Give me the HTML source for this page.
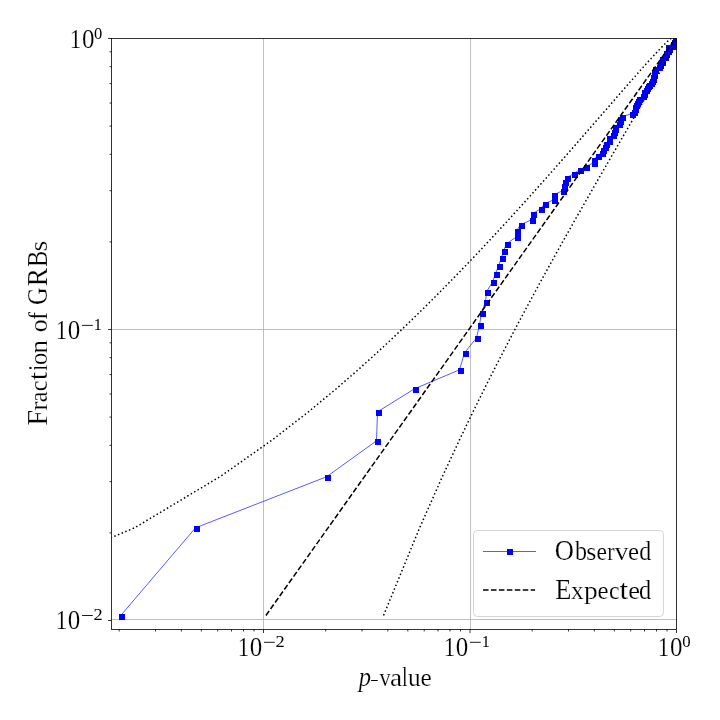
<!DOCTYPE html>
<html><head><meta charset="utf-8"><style>
html,body{margin:0;padding:0;background:#fff;}
svg{display:block;will-change:transform;}
text{font-family:"Liberation Serif",serif;fill:#000;font-kerning:none;stroke:#fff;stroke-width:0.2px;stroke-linejoin:round;}
</style></head><body>
<svg width="720" height="720" viewBox="0 0 720 720">
<rect width="720" height="720" fill="#fff"/>
<defs><clipPath id="ax"><rect x="111.5" y="38.5" width="565" height="591"/></clipPath></defs>
<g stroke="#b0b0b0" stroke-width="0.8" fill="none">
<line x1="263.5" y1="38.5" x2="263.5" y2="629.5"/>
<line x1="470.5" y1="38.5" x2="470.5" y2="629.5"/>
<line x1="111.5" y1="329.5" x2="676.5" y2="329.5"/>
<line x1="111.5" y1="619.5" x2="676.5" y2="619.5"/>
</g>
<g clip-path="url(#ax)">
<polyline points="120.5,615.8 195.5,527.8 326.5,476.8 376.5,440.8 377.5,411.8 414.5,388.8 459.5,369.8 464.5,352.8 476.5,337.8 479.5,324.8 481.5,312.8 485.5,301.8 486.5,291.8 492.5,281.8 495.5,273.8 498.5,265.8 501.5,257.8 503.5,250.8 506.5,243.8 516.5,236.8 516.5,230.8 520.5,224.8 531.5,219.8 532.5,213.8 540.5,208.8 544.5,203.8 553.5,199.8 553.5,194.8 562.5,190.8 563.5,185.8 564.5,181.8 566.5,177.8 573.5,173.8 579.5,169.8 585.5,166.8 593.5,162.8 593.5,159.8 597.5,155.8 601.5,152.8 602.5,149.8 604.5,146.8 605.5,143.8 608.5,140.8 608.5,137.8 612.5,134.8 613.5,131.8 614.5,128.8 614.5,126.8 618.5,123.8 619.5,120.8 619.5,118.8 621.5,116.8 631.5,113.8 633.5,111.8 634.5,108.8 634.5,106.8 635.5,104.8 636.5,102.8 637.5,100.8 638.5,98.8 642.5,95.8 643.5,93.8 643.5,91.8 645.5,89.8 646.5,87.8 647.5,85.8 648.5,84.8 650.5,82.8 651.5,80.8 652.5,78.8 652.5,76.8 653.5,74.8 653.5,73.8 653.5,71.8 654.5,69.8 654.5,68.8 658.5,66.8 659.5,64.8 659.5,63.8 661.5,61.8 661.5,60.8 661.5,58.8 664.5,56.8 664.5,55.8 665.5,53.8 665.5,52.8 667.5,50.8 667.5,49.8 668.5,48.8 667.5,46.8 672.5,45.8 672.5,43.8 673.5,42.8 673.5,41.8 674.5,39.8 675.5,38.8 676.5,37.8" fill="none" stroke="#0000ff" stroke-width="0.65" stroke-linejoin="round"/>
<g fill="#0000ff"><rect x="119" y="614" width="6" height="6"/><rect x="194" y="526" width="6" height="6"/><rect x="325" y="475" width="6" height="6"/><rect x="375" y="439" width="6" height="6"/><rect x="376" y="410" width="6" height="6"/><rect x="413" y="387" width="6" height="6"/><rect x="458" y="368" width="6" height="6"/><rect x="463" y="351" width="6" height="6"/><rect x="475" y="336" width="6" height="6"/><rect x="478" y="323" width="6" height="6"/><rect x="480" y="311" width="6" height="6"/><rect x="484" y="300" width="6" height="6"/><rect x="485" y="290" width="6" height="6"/><rect x="491" y="280" width="6" height="6"/><rect x="494" y="272" width="6" height="6"/><rect x="497" y="264" width="6" height="6"/><rect x="500" y="256" width="6" height="6"/><rect x="502" y="249" width="6" height="6"/><rect x="505" y="242" width="6" height="6"/><rect x="515" y="235" width="6" height="6"/><rect x="515" y="229" width="6" height="6"/><rect x="519" y="223" width="6" height="6"/><rect x="530" y="218" width="6" height="6"/><rect x="531" y="212" width="6" height="6"/><rect x="539" y="207" width="6" height="6"/><rect x="543" y="202" width="6" height="6"/><rect x="552" y="198" width="6" height="6"/><rect x="552" y="193" width="6" height="6"/><rect x="561" y="189" width="6" height="6"/><rect x="562" y="184" width="6" height="6"/><rect x="563" y="180" width="6" height="6"/><rect x="565" y="176" width="6" height="6"/><rect x="572" y="172" width="6" height="6"/><rect x="578" y="168" width="6" height="6"/><rect x="584" y="165" width="6" height="6"/><rect x="592" y="161" width="6" height="6"/><rect x="592" y="158" width="6" height="6"/><rect x="596" y="154" width="6" height="6"/><rect x="600" y="151" width="6" height="6"/><rect x="601" y="148" width="6" height="6"/><rect x="603" y="145" width="6" height="6"/><rect x="604" y="142" width="6" height="6"/><rect x="607" y="139" width="6" height="6"/><rect x="607" y="136" width="6" height="6"/><rect x="611" y="133" width="6" height="6"/><rect x="612" y="130" width="6" height="6"/><rect x="613" y="127" width="6" height="6"/><rect x="613" y="125" width="6" height="6"/><rect x="617" y="122" width="6" height="6"/><rect x="618" y="119" width="6" height="6"/><rect x="618" y="117" width="6" height="6"/><rect x="620" y="115" width="6" height="6"/><rect x="630" y="112" width="6" height="6"/><rect x="632" y="110" width="6" height="6"/><rect x="633" y="107" width="6" height="6"/><rect x="633" y="105" width="6" height="6"/><rect x="634" y="103" width="6" height="6"/><rect x="635" y="101" width="6" height="6"/><rect x="636" y="99" width="6" height="6"/><rect x="637" y="97" width="6" height="6"/><rect x="641" y="94" width="6" height="6"/><rect x="642" y="92" width="6" height="6"/><rect x="642" y="90" width="6" height="6"/><rect x="644" y="88" width="6" height="6"/><rect x="645" y="86" width="6" height="6"/><rect x="646" y="84" width="6" height="6"/><rect x="647" y="83" width="6" height="6"/><rect x="649" y="81" width="6" height="6"/><rect x="650" y="79" width="6" height="6"/><rect x="651" y="77" width="6" height="6"/><rect x="651" y="75" width="6" height="6"/><rect x="652" y="73" width="6" height="6"/><rect x="652" y="72" width="6" height="6"/><rect x="652" y="70" width="6" height="6"/><rect x="653" y="68" width="6" height="6"/><rect x="653" y="67" width="6" height="6"/><rect x="657" y="65" width="6" height="6"/><rect x="658" y="63" width="6" height="6"/><rect x="658" y="62" width="6" height="6"/><rect x="660" y="60" width="6" height="6"/><rect x="660" y="59" width="6" height="6"/><rect x="660" y="57" width="6" height="6"/><rect x="663" y="55" width="6" height="6"/><rect x="663" y="54" width="6" height="6"/><rect x="664" y="52" width="6" height="6"/><rect x="664" y="51" width="6" height="6"/><rect x="666" y="49" width="6" height="6"/><rect x="666" y="48" width="6" height="6"/><rect x="667" y="47" width="6" height="6"/><rect x="666" y="45" width="6" height="6"/><rect x="671" y="44" width="6" height="6"/><rect x="671" y="42" width="6" height="6"/><rect x="672" y="41" width="6" height="6"/><rect x="672" y="40" width="6" height="6"/><rect x="673" y="38" width="6" height="6"/><rect x="674" y="37" width="6" height="6"/><rect x="675" y="36" width="6" height="6"/></g>
<line x1="265.92" y1="615.47" x2="676.47" y2="36.92" stroke="#000" stroke-width="1.5" stroke-dasharray="5.55 2.4"/>
<polyline points="-72.37,615.47 134.55,527.81 220.26,476.53 271.95,440.15 308.32,411.93 336.14,388.87 358.55,369.38 377.25,352.49 393.27,337.59 407.25,324.27 419.64,312.21 430.77,301.21 440.85,291.09 450.06,281.72 458.54,272.99 466.4,264.83 473.71,257.16 480.55,249.93 486.97,243.09 493.02,236.61 498.74,230.44 504.16,224.55 509.32,218.93 514.23,213.55 518.93,208.39 523.42,203.43 527.73,198.65 531.86,194.06 535.84,189.62 539.67,185.33 543.37,181.18 546.94,177.17 550.39,173.28 553.73,169.5 556.97,165.84 560.11,162.27 563.16,158.81 566.13,155.43 569.01,152.15 571.81,148.95 574.55,145.83 577.21,142.78 579.81,139.8 582.35,136.89 584.82,134.05 587.24,131.27 589.61,128.55 591.93,125.89 594.2,123.28 596.42,120.73 598.59,118.22 600.73,115.77 602.82,113.36 604.87,110.99 606.89,108.67 608.87,106.4 610.81,104.16 612.72,101.96 614.6,99.8 616.45,97.67 618.27,95.58 620.06,93.52 621.83,91.5 623.56,89.51 625.28,87.55 626.96,85.62 628.63,83.71 630.27,81.84 631.89,80 633.49,78.18 635.07,76.38 636.63,74.61 638.18,72.87 639.7,71.15 641.21,69.45 642.7,67.78 644.18,66.12 645.64,64.49 647.09,62.88 648.53,61.29 649.96,59.72 651.37,58.17 652.78,56.63 654.17,55.12 655.56,53.62 656.95,52.14 658.33,50.68 659.7,49.23 661.08,47.81 662.46,46.39 663.85,45 665.24,43.61 666.66,42.25 668.11,40.89 669.6,39.55 671.19,38.23 672.97,36.92" fill="none" stroke="#000" stroke-width="1.5" stroke-dasharray="1.5 2.475"/>
<polyline points="383.54,615.47 419.64,527.81 442.41,476.53 459.36,440.15 472.96,411.93 484.37,388.87 494.22,369.38 502.89,352.49 510.65,337.59 517.67,324.27 524.09,312.21 530,301.21 535.48,291.09 540.59,281.72 545.37,272.99 549.87,264.83 554.12,257.16 558.14,249.93 561.96,243.09 565.6,236.61 569.08,230.44 572.4,224.55 575.58,218.93 578.64,213.55 581.57,208.39 584.4,203.43 587.13,198.65 589.76,194.06 592.31,189.62 594.77,185.33 597.16,181.18 599.47,177.17 601.71,173.28 603.89,169.5 606.01,165.84 608.07,162.27 610.07,158.81 612.02,155.43 613.93,152.15 615.78,148.95 617.59,145.83 619.36,142.78 621.08,139.8 622.77,136.89 624.42,134.05 626.03,131.27 627.6,128.55 629.15,125.89 630.66,123.28 632.14,120.73 633.59,118.22 635.01,115.77 636.4,113.36 637.76,110.99 639.1,108.67 640.41,106.4 641.7,104.16 642.97,101.96 644.21,99.8 645.43,97.67 646.62,95.58 647.8,93.52 648.95,91.5 650.09,89.51 651.2,87.55 652.3,85.62 653.37,83.71 654.43,81.84 655.47,80 656.49,78.18 657.49,76.38 658.47,74.61 659.44,72.87 660.39,71.15 661.33,69.45 662.24,67.78 663.14,66.12 664.03,64.49 664.89,62.88 665.74,61.29 666.57,59.72 667.39,58.17 668.19,56.63 668.96,55.12 669.73,53.62 670.47,52.14 671.19,50.68 671.89,49.23 672.56,47.81 673.21,46.39 673.83,45 674.42,43.61 674.97,42.25 675.48,40.89 675.91,39.55 676.26,38.23 676.45,36.92" fill="none" stroke="#000" stroke-width="1.5" stroke-dasharray="1.5 2.475"/>
</g>
<g stroke="#000" stroke-width="0.8" fill="none">
<rect x="111.5" y="38.5" width="565" height="591"/>
<line x1="119.16" y1="629.5" x2="119.16" y2="631.5"/><line x1="155.53" y1="629.5" x2="155.53" y2="631.5"/><line x1="181.33" y1="629.5" x2="181.33" y2="631.5"/><line x1="201.34" y1="629.5" x2="201.34" y2="631.5"/><line x1="217.69" y1="629.5" x2="217.69" y2="631.5"/><line x1="231.51" y1="629.5" x2="231.51" y2="631.5"/><line x1="243.49" y1="629.5" x2="243.49" y2="631.5"/><line x1="254.05" y1="629.5" x2="254.05" y2="631.5"/><line x1="263.5" y1="629.5" x2="263.5" y2="633.0"/><line x1="325.66" y1="629.5" x2="325.66" y2="631.5"/><line x1="362.03" y1="629.5" x2="362.03" y2="631.5"/><line x1="387.83" y1="629.5" x2="387.83" y2="631.5"/><line x1="407.84" y1="629.5" x2="407.84" y2="631.5"/><line x1="424.19" y1="629.5" x2="424.19" y2="631.5"/><line x1="438.01" y1="629.5" x2="438.01" y2="631.5"/><line x1="449.99" y1="629.5" x2="449.99" y2="631.5"/><line x1="460.55" y1="629.5" x2="460.55" y2="631.5"/><line x1="470" y1="629.5" x2="470" y2="633.0"/><line x1="532.16" y1="629.5" x2="532.16" y2="631.5"/><line x1="568.53" y1="629.5" x2="568.53" y2="631.5"/><line x1="594.33" y1="629.5" x2="594.33" y2="631.5"/><line x1="614.34" y1="629.5" x2="614.34" y2="631.5"/><line x1="630.69" y1="629.5" x2="630.69" y2="631.5"/><line x1="644.51" y1="629.5" x2="644.51" y2="631.5"/><line x1="656.49" y1="629.5" x2="656.49" y2="631.5"/><line x1="667.05" y1="629.5" x2="667.05" y2="631.5"/><line x1="676.5" y1="629.5" x2="676.5" y2="633"/><line x1="111.5" y1="620.5" x2="108.0" y2="620.5"/><line x1="111.5" y1="532.9" x2="109.5" y2="532.9"/><line x1="111.5" y1="481.66" x2="109.5" y2="481.66"/><line x1="111.5" y1="445.3" x2="109.5" y2="445.3"/><line x1="111.5" y1="417.1" x2="109.5" y2="417.1"/><line x1="111.5" y1="394.06" x2="109.5" y2="394.06"/><line x1="111.5" y1="374.58" x2="109.5" y2="374.58"/><line x1="111.5" y1="357.7" x2="109.5" y2="357.7"/><line x1="111.5" y1="342.82" x2="109.5" y2="342.82"/><line x1="111.5" y1="329.5" x2="108.0" y2="329.5"/><line x1="111.5" y1="241.9" x2="109.5" y2="241.9"/><line x1="111.5" y1="190.66" x2="109.5" y2="190.66"/><line x1="111.5" y1="154.3" x2="109.5" y2="154.3"/><line x1="111.5" y1="126.1" x2="109.5" y2="126.1"/><line x1="111.5" y1="103.06" x2="109.5" y2="103.06"/><line x1="111.5" y1="83.58" x2="109.5" y2="83.58"/><line x1="111.5" y1="66.7" x2="109.5" y2="66.7"/><line x1="111.5" y1="51.82" x2="109.5" y2="51.82"/><line x1="111.5" y1="38.5" x2="108" y2="38.5"/>
</g>
<g><text transform="translate(237.72,656.00) scale(0.8298,1)" font-size="27.9">1</text>
<text transform="translate(249.85,656.00) scale(0.8964,1)" font-size="27.9">0</text>
<line x1="264.05" y1="642.30" x2="274.75" y2="642.30" stroke="#000" stroke-width="0.9"/>
<text transform="translate(275.59,647.20) scale(1.0548,1)" font-size="17.5" style="stroke:none">2</text>
<text transform="translate(443.72,656.00) scale(0.8298,1)" font-size="27.9">1</text>
<text transform="translate(455.85,656.00) scale(0.8964,1)" font-size="27.9">0</text>
<line x1="470.05" y1="642.30" x2="480.75" y2="642.30" stroke="#000" stroke-width="0.9"/>
<text transform="translate(481.78,647.20) scale(0.9252,1)" font-size="17.5" style="stroke:none">1</text>
<text transform="translate(657.87,656.00) scale(0.8298,1)" font-size="27.9">1</text>
<text transform="translate(670.00,656.00) scale(0.8964,1)" font-size="27.9">0</text>
<text transform="translate(682.16,646.90) scale(0.9573,1)" font-size="17.5" style="stroke:none">0</text>
<text transform="translate(69.77,48.10) scale(0.8298,1)" font-size="27.9">1</text>
<text transform="translate(81.90,48.10) scale(0.8964,1)" font-size="27.9">0</text>
<text transform="translate(93.97,38.60) scale(0.9438,1)" font-size="17.5" style="stroke:none">0</text>
<text transform="translate(55.72,339.10) scale(0.8298,1)" font-size="27.9">1</text>
<text transform="translate(67.85,339.10) scale(0.8964,1)" font-size="27.9">0</text>
<line x1="82.05" y1="325.40" x2="92.75" y2="325.40" stroke="#000" stroke-width="0.9"/>
<text transform="translate(93.78,329.90) scale(0.9252,1)" font-size="17.5" style="stroke:none">1</text>
<text transform="translate(55.72,629.20) scale(0.8298,1)" font-size="27.9">1</text>
<text transform="translate(67.85,629.20) scale(0.8964,1)" font-size="27.9">0</text>
<line x1="82.05" y1="615.50" x2="92.75" y2="615.50" stroke="#000" stroke-width="0.9"/>
<text transform="translate(93.59,620.00) scale(1.0548,1)" font-size="17.5" style="stroke:none">2</text>
<text transform="translate(358.64,685.80) scale(0.9216,1)" font-size="26.7" font-style="italic">p</text>
<line x1="371.6" y1="680.5" x2="377.3" y2="680.5" stroke="#000" stroke-width="1.2" stroke-linecap="round"/>
<text transform="translate(379.40,685.80) scale(0.8605,1)" font-size="25.8">v</text>
<text transform="translate(389.94,685.80) scale(1.0597,1)" font-size="25.8">a</text>
<text transform="translate(402.00,685.80) scale(0.7476,1)" font-size="27.0">l</text>
<text transform="translate(408.07,685.80) scale(0.9819,1)" font-size="25.8">u</text>
<text transform="translate(420.51,685.80) scale(0.9844,1)" font-size="25.8">e</text>
<text transform="translate(46.90,425.72) rotate(-90) scale(0.9965,1)" font-size="28.6">F</text>
<text transform="translate(46.90,410.65) rotate(-90) scale(1.0703,1)" font-size="25.8">r</text>
<text transform="translate(46.90,402.35) rotate(-90) scale(0.9420,1)" font-size="25.8">a</text>
<text transform="translate(46.90,391.21) rotate(-90) scale(0.9302,1)" font-size="25.8">c</text>
<text transform="translate(46.90,380.30) rotate(-90) scale(1.1300,1)" font-size="27.0">t</text>
<text transform="translate(46.90,370.74) rotate(-90) scale(0.7788,1)" font-size="27.0">i</text>
<text transform="translate(46.90,365.03) rotate(-90) scale(0.9511,1)" font-size="25.8">o</text>
<text transform="translate(46.90,353.42) rotate(-90) scale(1.0489,1)" font-size="25.8">n</text>
<text transform="translate(46.90,332.18) rotate(-90) scale(0.9968,1)" font-size="25.8">o</text>
<text transform="translate(46.90,319.82) rotate(-90) scale(0.8700,1)" font-size="27.0">f</text>
<text transform="translate(46.90,305.10) rotate(-90) scale(0.8527,1)" font-size="28.6">G</text>
<text transform="translate(46.90,286.29) rotate(-90) scale(0.9610,1)" font-size="28.6">R</text>
<text transform="translate(46.90,267.00) rotate(-90) scale(0.8543,1)" font-size="28.6">B</text>
<text transform="translate(46.90,251.53) rotate(-90) scale(1.0683,1)" font-size="25.8">s</text></g>
<!-- legend -->
<rect x="473.5" y="530.5" width="190" height="86" rx="3.8" ry="3.8" fill="#fff" fill-opacity="0.8" stroke="#cccccc" stroke-opacity="0.8" stroke-width="1"/>
<line x1="483" y1="551.5" x2="536" y2="551.5" stroke="#0000ff" stroke-width="0.65"/>
<rect x="507" y="549" width="6" height="6" fill="#0000ff"/>
<line x1="483" y1="590" x2="535.1" y2="590" stroke="#000" stroke-width="1.5" stroke-dasharray="5.55 2.4"/>
<g><text transform="translate(554.81,559.50) scale(0.9286,1)" font-size="28.6">O</text>
<text transform="translate(575.00,559.50) scale(0.8900,1)" font-size="27.0">b</text>
<text transform="translate(586.24,559.50) scale(1.0062,1)" font-size="25.8">s</text>
<text transform="translate(596.38,559.50) scale(0.9111,1)" font-size="25.8">e</text>
<text transform="translate(607.16,559.50) scale(0.8537,1)" font-size="25.8">r</text>
<text transform="translate(614.80,559.50) scale(1.0543,1)" font-size="25.8">v</text>
<text transform="translate(627.93,559.50) scale(0.9634,1)" font-size="25.8">e</text>
<text transform="translate(639.24,559.50) scale(0.8856,1)" font-size="27.0">d</text>
<text transform="translate(555.34,598.70) scale(0.9263,1)" font-size="28.6">E</text>
<text transform="translate(570.88,598.70) scale(0.9872,1)" font-size="25.8">x</text>
<text transform="translate(583.96,598.70) scale(1.0630,1)" font-size="25.8">p</text>
<text transform="translate(597.53,598.70) scale(0.9634,1)" font-size="25.8">e</text>
<text transform="translate(609.10,598.70) scale(0.9199,1)" font-size="25.8">c</text>
<text transform="translate(619.39,598.70) scale(1.1583,1)" font-size="27.0">t</text>
<text transform="translate(628.37,598.70) scale(1.0263,1)" font-size="25.8">e</text>
<text transform="translate(639.02,598.70) scale(0.9020,1)" font-size="27.0">d</text></g>
</svg>
</body></html>
